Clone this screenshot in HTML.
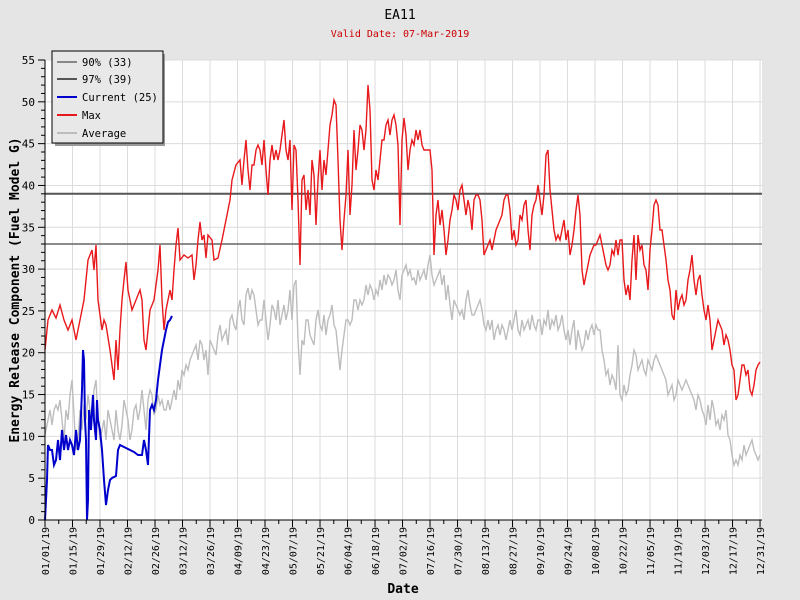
<!DOCTYPE html>
<html><head><meta charset="utf-8"><style>
body{margin:0;background:#e5e5e5}
svg{display:block;font-family:"DejaVu Sans Mono","Liberation Mono",monospace}
</style></head><body>
<svg width="800" height="600" viewBox="0 0 800 600" xmlns="http://www.w3.org/2000/svg">
<rect width="800" height="600" fill="#e5e5e5"/>
<rect x="45" y="60" width="717" height="460" fill="#fff"/>
<g id="grid" stroke="#dcdcdc" stroke-width="1"></g>
<g id="ticks" stroke="#000" stroke-width="1"></g>
<line x1="45" y1="193.8" x2="762" y2="193.8" stroke="#555" stroke-width="2"/>
<line x1="45" y1="244" x2="762" y2="244" stroke="#666" stroke-width="1.5"/>
<polyline id="avg" fill="none" stroke="#bdbdbd" stroke-width="1.4"/>
<polyline id="mx" fill="none" stroke="#e8191c" stroke-width="1.4"/>
<polyline id="cur" fill="none" stroke="#0000cc" stroke-width="2"/>
<line x1="45" y1="60" x2="45" y2="520" stroke="#000"/>
<line x1="45" y1="520" x2="762" y2="520" stroke="#000"/>
<g id="labels" font-size="10" fill="#000"></g>
<text x="400" y="19" text-anchor="middle" font-size="13">EA11</text>
<text x="400" y="37" text-anchor="middle" font-size="10" fill="#cc0000">Valid Date: 07-Mar-2019</text>
<text x="403" y="593" text-anchor="middle" font-size="13" font-weight="bold">Date</text>
<text transform="translate(19,290) rotate(-90)" text-anchor="middle" font-size="13" font-weight="bold">Energy Release Component (Fuel Model G)</text>
<rect x="55" y="54" width="110" height="92" fill="#999"/>
<rect x="52" y="51" width="111" height="92" fill="#e8e8e8" stroke="#000"/>
<g stroke-width="2">
<line x1="57" y1="62" x2="77" y2="62" stroke="#888"/>
<line x1="57" y1="79" x2="77" y2="79" stroke="#555"/>
<line x1="57" y1="97" x2="77" y2="97" stroke="#0000cc"/>
<line x1="57" y1="115" x2="77" y2="115" stroke="#e8191c"/>
<line x1="57" y1="133" x2="77" y2="133" stroke="#bdbdbd"/>
</g>
<g font-size="10.5"><text x="82" y="66">90% (33)</text><text x="82" y="83">97% (39)</text><text x="82" y="101">Current (25)</text><text x="82" y="119">Max</text><text x="82" y="137">Average</text></g>
</svg>
<script>
const NS="http://www.w3.org/2000/svg";
function el(p,t,a,txt){const e=document.createElementNS(NS,t);for(const k in a)e.setAttribute(k,a[k]);if(txt)e.textContent=txt;p.appendChild(e);}
const g=document.getElementById('grid'),tk=document.getElementById('ticks'),lb=document.getElementById('labels');
const Y=v=>520-v*8.3636, X=d=>45+d*1.9644;
for(let v=5;v<=55;v+=5)el(g,'line',{x1:45,x2:762,y1:Y(v),y2:Y(v)});
for(let v=0;v<=55;v++){const w=v%5?4:7;el(tk,'line',{x1:45-w,x2:45,y1:Y(v),y2:Y(v)});}
for(let v=0;v<=55;v+=5)el(lb,'text',{x:35,y:Y(v)+4,'text-anchor':'end','font-size':11},String(v));
const lab=["01/01/19","01/15/19","01/29/19","02/12/19","02/26/19","03/12/19","03/26/19","04/09/19","04/23/19","05/07/19","05/21/19","06/04/19","06/18/19","07/02/19","07/16/19","07/30/19","08/13/19","08/27/19","09/10/19","09/24/19","10/08/19","10/22/19","11/05/19","11/19/19","12/03/19","12/17/19","12/31/19"];
lab.forEach((s,i)=>{const d=i<26?i*14:364,x=X(d);if(i>0)el(g,'line',{x1:x,x2:x,y1:60,y2:520});
el(tk,'line',{x1:x,x2:x,y1:520,y2:527});if(i<26)el(tk,'line',{x1:X(d+7),x2:X(d+7),y1:520,y2:524});
el(lb,'text',{transform:`translate(${x+4},${527}) rotate(-90)`,'text-anchor':'end'},s);});
const mx=[45,350,48,320,52,310,56,318,60,305,64,320,68,330,72,320,76,340,80,320,84,300,86,280,88,260,92,250,94,270,96,245,98,300,102,330,104,320,106,325,110,350,114,380,116,340,118,370,120,330,122,300,124,280,126,262,128,290,132,310,136,300,138,295,140,290,142,300,144,340,146,350,148,330,150,310,154,300,158,270,160,245,162,300,164,330,166,310,170,290,172,300,174,270,176,245,178,228,180,260,184,255,188,258,192,255,194,280,196,265,198,240,200,222,202,240,204,235,206,258,208,235,212,240,214,260,218,258,222,240,224,230,228,210,230,200,232,180,236,165,240,160,242,185,244,160,246,140,248,170,250,190,252,165,254,165,256,150,258,145,260,150,262,165,264,140,266,170,268,195,270,160,272,145,274,160,276,150,278,160,280,150,282,135,284,120,286,150,288,160,290,140,292,210,294,145,296,150,298,200,300,265,302,180,304,175,306,210,308,190,310,215,312,160,314,175,316,225,318,180,320,150,322,190,324,160,326,175,328,150,330,125,332,115,334,100,336,105,338,160,340,220,342,250,344,220,346,195,348,150,350,215,352,185,354,130,356,170,358,150,360,125,362,130,364,150,366,130,368,85,370,110,372,180,374,190,376,170,378,180,380,160,382,140,384,140,386,125,388,120,390,135,392,120,394,115,396,125,398,145,400,225,402,140,404,118,406,135,408,170,410,150,412,140,414,145,416,130,418,140,420,130,422,145,424,150,426,150,428,150,430,150,432,170,434,255,436,215,438,200,440,225,442,210,444,230,446,255,448,240,450,220,452,210,454,195,456,200,458,210,460,190,462,185,464,200,466,215,468,200,470,210,472,230,474,200,476,195,478,195,480,200,482,220,484,255,486,250,488,245,490,240,492,250,494,240,496,230,498,225,500,220,502,215,504,200,506,195,508,195,510,210,512,240,514,230,516,245,518,240,520,215,522,220,524,205,526,200,528,230,530,250,532,215,534,205,536,200,538,185,540,200,542,215,544,195,546,155,548,150,550,190,552,210,554,230,556,240,558,235,560,240,562,230,564,220,566,240,568,230,570,255,572,245,574,230,576,210,578,195,580,215,582,270,584,285,586,275,588,265,590,255,592,250,594,245,596,245,598,240,600,235,602,245,604,255,606,265,608,270,610,265,612,250,614,255,616,240,618,255,620,240,622,240,624,280,626,295,628,285,630,300,632,260,634,235,636,280,638,235,640,250,642,245,644,265,646,270,648,290,650,250,652,230,654,205,656,200,658,205,660,230,662,230,664,245,666,260,668,280,670,290,672,315,674,320,676,290,678,310,680,300,682,295,684,305,686,300,688,280,690,270,692,255,694,280,696,295,698,280,700,275,702,295,704,310,706,320,708,305,710,320,712,350,714,340,716,330,718,320,720,325,722,330,724,345,726,335,728,340,730,350,732,365,734,370,736,400,738,395,740,380,742,365,744,365,746,375,748,370,750,390,752,395,754,385,756,370,758,365,760,362];
const av=[45,435,48,420,50,410,52,425,54,410,56,405,58,410,60,400,62,420,64,440,66,410,68,420,70,395,72,380,74,415,76,450,78,440,80,410,82,430,84,405,86,420,88,395,90,410,92,420,94,390,96,380,98,420,100,440,102,430,104,420,106,440,108,410,110,420,112,430,114,440,116,410,118,430,120,440,122,425,124,400,126,410,128,420,130,440,132,430,134,410,136,405,138,420,140,410,142,390,144,410,146,430,148,400,150,390,152,395,154,415,156,410,158,395,160,405,162,400,164,410,166,410,168,400,170,410,172,400,174,390,176,400,178,380,180,390,182,370,184,375,186,365,188,370,190,360,192,355,194,350,196,345,198,360,200,340,202,345,204,360,206,350,208,375,210,340,212,345,214,350,216,355,218,335,220,325,222,340,224,335,226,330,228,345,230,320,232,315,234,325,236,330,238,310,240,300,242,320,244,325,246,295,248,288,250,300,252,290,254,295,256,310,258,325,260,320,262,320,264,300,266,320,268,340,270,325,272,305,274,310,276,320,278,300,280,325,282,315,284,305,286,320,288,310,290,290,292,320,294,285,296,280,298,340,300,375,302,340,304,345,306,320,308,320,310,335,312,340,314,345,316,320,318,310,320,325,322,330,324,315,326,335,328,320,330,315,332,305,334,325,336,330,338,350,340,370,342,350,344,335,346,320,348,320,350,325,352,320,354,300,356,300,358,310,360,300,362,305,364,300,366,285,368,295,370,285,372,290,374,300,376,290,378,295,380,280,382,290,384,275,386,285,388,275,390,278,392,285,394,280,396,270,398,290,400,300,402,275,404,270,406,265,408,275,410,270,412,280,414,278,416,285,418,270,420,280,422,275,424,270,426,280,428,265,430,255,432,275,434,285,436,280,438,275,440,270,442,285,444,275,446,300,448,285,450,305,452,320,454,300,456,305,458,310,460,315,462,310,464,320,466,300,468,290,470,305,472,315,474,315,476,310,478,305,480,300,482,310,484,325,486,330,488,320,490,330,492,320,494,340,496,330,498,325,500,335,502,325,504,330,506,340,508,330,510,320,512,330,514,320,516,310,518,330,520,335,522,320,524,330,526,325,528,320,530,330,532,315,534,325,536,330,538,320,540,320,542,335,544,320,546,325,548,310,550,330,552,320,554,325,556,315,558,330,560,325,562,315,564,330,566,340,568,330,570,345,572,330,574,320,576,350,578,330,580,340,582,350,584,345,586,330,588,340,590,330,592,325,594,335,596,325,598,330,600,330,602,350,604,360,606,375,608,370,610,385,612,375,614,380,616,390,618,345,620,395,622,400,624,385,626,395,628,390,630,375,632,365,634,350,636,355,638,370,640,365,642,360,644,370,646,375,648,360,650,365,652,370,654,360,656,355,658,360,660,365,662,370,664,375,666,380,668,395,670,390,672,385,674,400,676,395,678,380,680,385,682,390,684,385,686,380,688,385,690,390,692,395,694,400,696,410,698,395,700,400,702,410,704,415,706,425,708,405,710,420,712,400,714,410,716,425,718,420,720,430,722,415,724,420,726,410,728,435,730,440,732,455,734,465,736,460,738,465,740,455,742,460,744,445,746,455,748,450,750,445,752,440,754,450,756,455,758,460,760,455];
const cu=[45,520,46,500,47,480,48,445,50,450,52,450,54,465,56,460,58,440,60,460,62,430,64,450,66,435,68,450,70,440,72,445,74,455,76,430,78,450,80,440,82,390,83,350,84,360,85,420,86,440,87,520,88,500,89,410,90,420,91,430,92,410,93,395,94,420,96,440,97,400,98,420,100,430,102,450,104,480,106,505,108,490,110,480,112,478,116,476,118,450,120,445,122,446,126,448,130,450,134,452,138,455,142,455,144,440,146,450,148,465,150,410,152,405,154,410,156,400,158,380,160,365,162,350,164,340,166,330,168,322,170,320,172,316];
const pts=a=>{let s=[];for(let i=0;i<a.length;i+=2)s.push(a[i]+','+a[i+1]);return s.join(' ');};
document.getElementById('mx').setAttribute('points',pts(mx));
document.getElementById('avg').setAttribute('points',pts(av));
document.getElementById('cur').setAttribute('points',pts(cu));
</script>
</body></html>
